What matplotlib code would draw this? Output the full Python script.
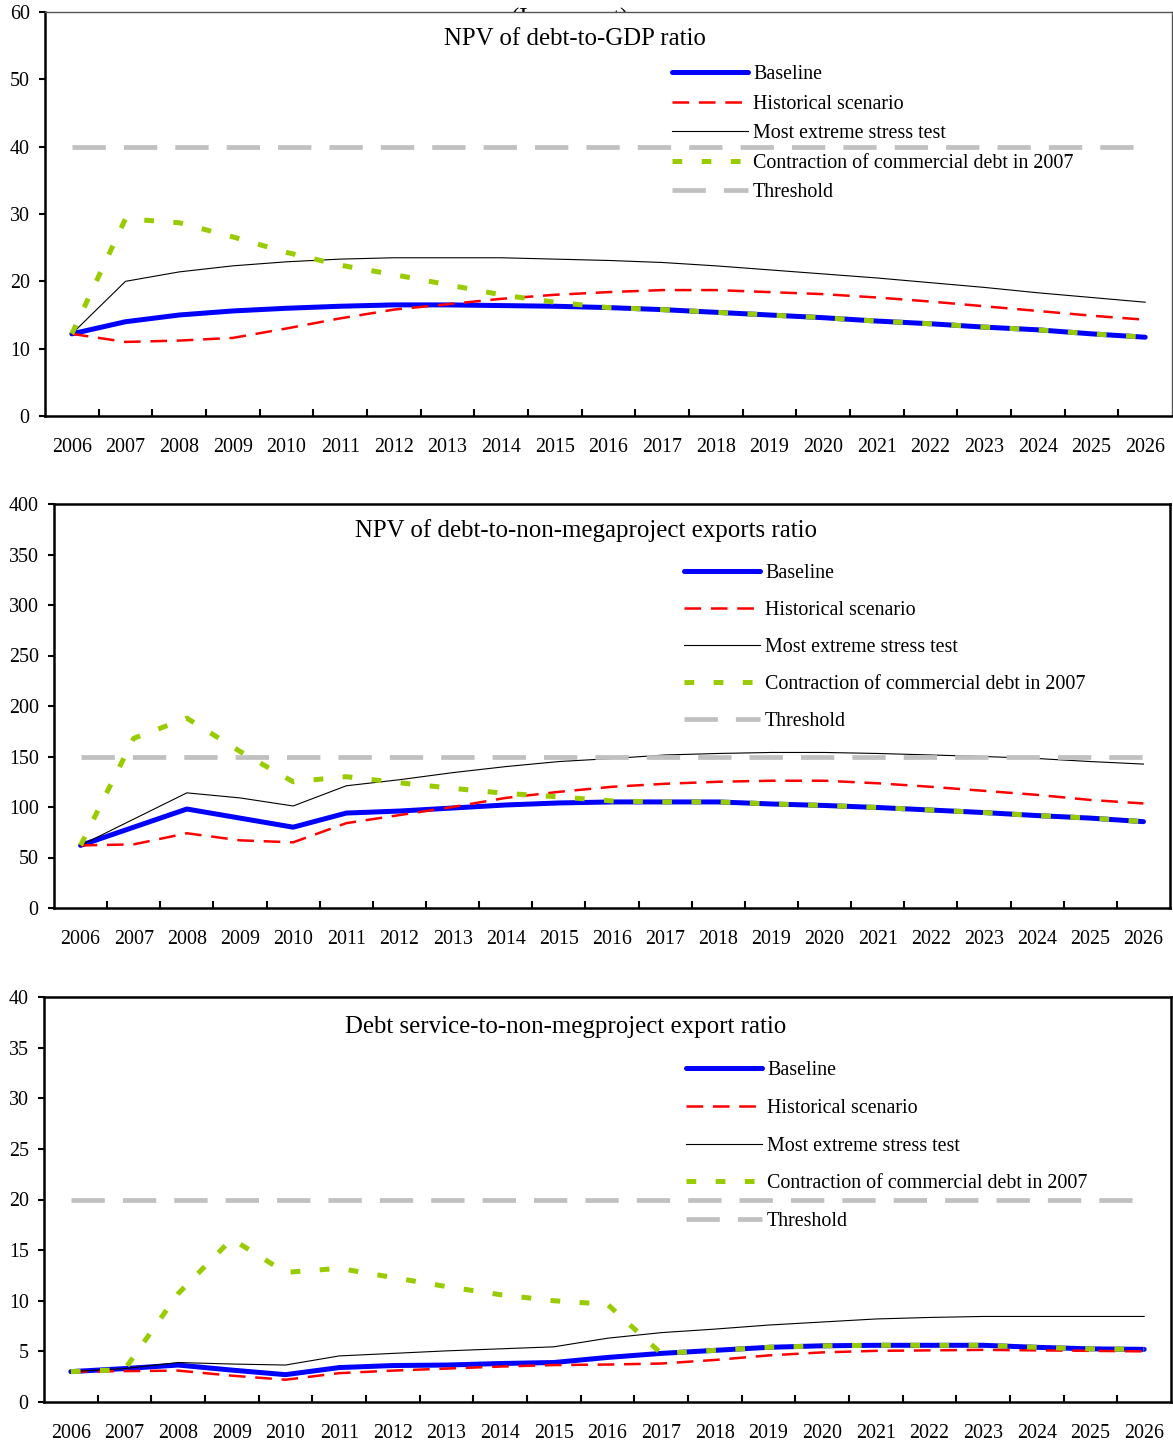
import matplotlib
matplotlib.use('Agg')
import matplotlib.pyplot as plt

plt.rcParams['font.family'] = ['Liberation Serif', 'DejaVu Serif']
plt.rcParams['lines.scale_dashes'] = False

years = [str(y) for y in range(2006, 2027)]

# NPV of debt-to-GDP ratio
gdp_baseline = [12.2, 14.0, 15.0, 15.6, 16.0, 16.3, 16.5, 16.5, 16.4, 16.3, 16.1,
                15.8, 15.4, 15.0, 14.6, 14.1, 13.7, 13.2, 12.8, 12.2, 11.7]
gdp_historical = [12.2, 11.0, 11.2, 11.6, 13.0, 14.5, 15.8, 16.6, 17.4, 18.0, 18.4,
                  18.7, 18.7, 18.4, 18.1, 17.6, 17.0, 16.3, 15.6, 14.9, 14.3]
gdp_stress = [12.2, 20.0, 21.4, 22.3, 22.9, 23.3, 23.5, 23.5, 23.5, 23.3, 23.1,
              22.8, 22.3, 21.7, 21.1, 20.5, 19.8, 19.1, 18.3, 17.6, 16.9]
gdp_contraction = [12.2, 29.3, 28.7, 26.6, 24.3, 22.4, 21.0, 19.5, 18.0, 16.9, 16.1,
                   15.8, 15.4, 15.0, 14.6, 14.1, 13.7, 13.2, 12.8, 12.2, 11.7]
gdp_threshold = [40] * 21

# NPV of debt-to-non-megaproject exports ratio
exp_baseline = [62, 80, 98, 89, 80, 94, 96, 99, 102, 104, 105,
                105, 105, 103, 101.5, 99.5, 97, 94.5, 91.5, 89, 85.5]
exp_historical = [62, 63, 74, 67, 65, 84, 92, 100, 109, 115, 120,
                  123, 125, 126, 126, 123.5, 120, 116, 112, 107, 103.5]
exp_stress = [62, 88, 114, 109, 101, 121, 127, 134, 140, 145, 148,
              151.5, 153, 154, 154, 153, 151.5, 150, 148, 145, 142.5]
exp_contraction = [62, 168, 188, 155, 125, 130, 124, 118.5, 113.5, 110, 106,
                   105, 105, 103, 101.5, 99.5, 97, 94.5, 91.5, 89, 85.5]
exp_threshold = [150] * 21

# Debt service-to-non-megproject export ratio
ds_baseline = [3.0, 3.3, 3.65, 3.15, 2.7, 3.4, 3.6, 3.65, 3.8, 3.9, 4.4,
               4.8, 5.1, 5.4, 5.55, 5.6, 5.6, 5.6, 5.4, 5.25, 5.2]
ds_historical = [3.0, 3.05, 3.1, 2.6, 2.2, 2.85, 3.1, 3.3, 3.5, 3.65, 3.7,
                 3.8, 4.15, 4.6, 4.9, 5.05, 5.1, 5.15, 5.1, 5.05, 5.0]
ds_stress = [3.0, 3.3, 3.9, 3.75, 3.65, 4.55, 4.8, 5.05, 5.25, 5.45, 6.3,
             6.85, 7.2, 7.6, 7.9, 8.2, 8.35, 8.45, 8.45, 8.45, 8.45]
ds_contraction = [3.0, 3.2, 10.7, 16.1, 12.8, 13.2, 12.3, 11.4, 10.6, 10.0, 9.65,
                  4.8, 5.1, 5.4, 5.55, 5.6, 5.6, 5.6, 5.4, 5.25, 5.2]
ds_threshold = [20] * 21

labels = ['Baseline', 'Historical scenario', 'Most extreme stress test',
          'Contraction of commercial debt in 2007', 'Threshold']

W, H = 1173, 1445
fig = plt.figure(figsize=(W / 100, H / 100), dpi=100)


def fig_rect(left, top, right, bottom):
    return [left / W, 1 - bottom / H, (right - left) / W, (bottom - top) / H]


def draw_panel(rect, title, title_xy, series, ymax, ystep, legend_xy, spacing, thin_box):
    ax = fig.add_axes(fig_rect(*rect))
    x = list(range(len(years)))
    base, hist, stress, contr, thr = series
    ax.plot(x, base, color='#0000FF', lw=3.6, solid_capstyle='round', label=labels[0])
    ax.plot(x, hist, color='#FF0000', lw=1.8, dashes=(12, 7), label=labels[1])
    ax.plot(x, stress, color='black', lw=0.8, label=labels[2])
    ax.plot(x, contr, color='#99CC00', lw=3.6, dashes=(7, 14), label=labels[3])
    ax.plot(x, thr, color='#C0C0C0', lw=3.4, dashes=(24, 13), label=labels[4])

    ax.set_xlim(-0.5, len(years) - 0.5)
    ax.set_ylim(0, ymax)
    ax.set_xticks(x)
    ax.set_xticklabels(years)
    ax.set_xticks([i + 0.5 for i in range(len(years) - 1)], minor=True)
    ax.set_yticks(range(0, ymax + 1, ystep))
    ax.tick_params(axis='x', which='major', length=0, pad=16, labelsize=14.4)
    ax.tick_params(axis='x', which='minor', direction='in', length=5, width=1.5)
    ax.tick_params(axis='y', direction='out', length=4, width=1.5, pad=7, labelsize=14.4)

    for side in ['left', 'bottom']:
        ax.spines[side].set_linewidth(1.8)
    for side in ['top', 'right']:
        if thin_box:
            ax.spines[side].set_linewidth(1.0)
            ax.spines[side].set_color('#555555')
        else:
            ax.spines[side].set_linewidth(1.8)

    fig.text(title_xy[0] / W, 1 - title_xy[1] / H, title, ha='center', va='center', fontsize=17.9)
    ax.legend(loc='upper left', bbox_to_anchor=(legend_xy[0] / W, 1 - legend_xy[1] / H),
              bbox_transform=fig.transFigure, frameon=False, borderpad=0, borderaxespad=0,
              handlelength=3.8, handletextpad=0.25, labelspacing=spacing, fontsize=14.4)
    return ax


# subtitle sits behind the first panel, only its top edge shows
fig.text(570 / W, 1 - 8 / H, '(In percent)', ha='center', va='top', fontsize=17.9, zorder=-1)

draw_panel((45, 12, 1172, 416), 'NPV of debt-to-GDP ratio', (575, 39),
           [gdp_baseline, gdp_historical, gdp_stress, gdp_contraction, gdp_threshold],
           60, 10, (672, 65), 0.53, True)
draw_panel((54, 504, 1170, 908), 'NPV of debt-to-non-megaproject exports ratio', (586, 531),
           [exp_baseline, exp_historical, exp_stress, exp_contraction, exp_threshold],
           400, 50, (684, 564), 0.9, False)
draw_panel((44, 997, 1171, 1402), 'Debt service-to-non-megproject export ratio', (566, 1027),
           [ds_baseline, ds_historical, ds_stress, ds_contraction, ds_threshold],
           40, 5, (686, 1061), 0.94, False)

fig.savefig('out.png', dpi=100)
